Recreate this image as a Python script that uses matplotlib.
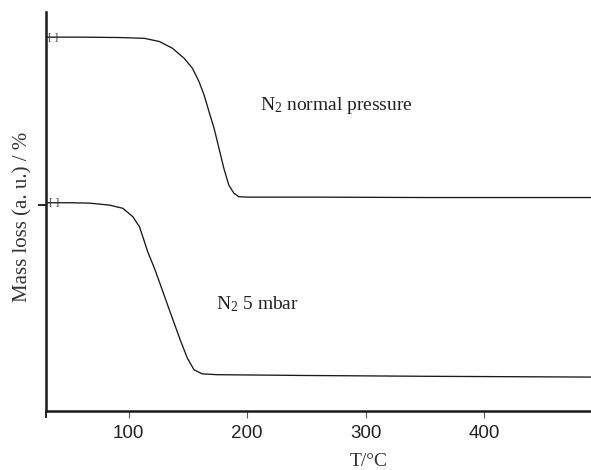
import matplotlib
matplotlib.use("Agg")
import matplotlib.pyplot as plt

# Data (T in °C, mass in arbitrary units)
t_normal = [30.4, 60.0, 92.4, 113.4, 126.0, 137.1, 146.9, 153.9, 159.5, 163.7,
            167.9, 172.1, 176.3, 180.4, 184.6, 188.8, 193.0, 201.4, 260.0,
            350.0, 490.0]
m_normal = [93.7, 93.7, 93.6, 93.4, 92.6, 90.9, 88.4, 85.9, 82.5, 79.2,
            75.0, 70.9, 65.8, 60.8, 56.6, 54.6, 53.7, 53.6, 53.6,
            53.5, 53.5]

t_5mbar = [31.3, 50.0, 67.3, 84.0, 95.2, 103.6, 109.2, 112.0, 116.2, 121.8,
           127.4, 132.9, 138.5, 144.1, 149.7, 155.3, 162.3, 174.8, 250.0,
           350.0, 490.0]
m_5mbar = [52.2, 52.2, 52.1, 51.6, 50.8, 48.7, 46.2, 43.7, 39.9, 35.8,
           31.2, 26.6, 22.0, 17.4, 13.2, 10.3, 9.3, 9.1, 8.9,
           8.7, 8.5]

x_ticks = [100, 200, 300, 400]
y_ticks = [51.6]

plt.rcParams['mathtext.fontset'] = 'custom'
plt.rcParams['mathtext.rm'] = 'Liberation Serif'
plt.rcParams['mathtext.it'] = 'Liberation Serif:italic'

fig = plt.figure(figsize=(5.91, 4.70), dpi=100)
ax = fig.add_axes([46/591, 1-411/470, 1-46/591, (411-12)/470])

ax.plot(t_normal, m_normal, color='#1a1a1a', lw=0.95)
ax.plot(t_5mbar, m_5mbar, color='#1a1a1a', lw=0.95)

ax.set_xlim(30.4, 490)
ax.set_ylim(0, 100)

for s in ['top', 'right']:
    ax.spines[s].set_visible(False)
for s in ['left', 'bottom']:
    ax.spines[s].set_linewidth(1.8)
    ax.spines[s].set_color('#1a1a1a')

ax.set_xticks(x_ticks)
ax.set_xticklabels([str(v) for v in x_ticks], fontfamily='Liberation Sans',
                   fontsize=13.5, color='#222222')
ax.set_xticks([30.4], minor=True)
ax.tick_params(axis='x', which='major', direction='out', length=5, width=0.8,
               pad=5, color='#555555')
ax.tick_params(axis='x', which='minor', direction='out', length=5, width=1.2)
ax.set_yticks(y_ticks)
ax.set_yticklabels([])
ax.tick_params(axis='y', direction='out', length=6, width=1.2)

ax.set_xlabel('T/°C', fontfamily='Liberation Serif', fontsize=14, color='#333333')
ax.xaxis.set_label_coords((369-46)/545, -(453-411)/399)
ax.set_ylabel('Mass loss (a. u.) / %', fontfamily='Liberation Serif', fontsize=15,
              color='#333333')
ax.yaxis.set_label_coords(-(46-32)/545, (411-217)/399)

ax.text(210.6, 75.4, r'N$_2$ normal pressure', fontfamily='Liberation Serif',
        fontsize=14, color='#222222', va='baseline', ha='left')
ax.text(173.5, 25.6, r'N$_2$ 5 mbar', fontfamily='Liberation Serif',
        fontsize=14, color='#222222', va='baseline', ha='left')

# small bracket markers at curve starts
ax.text(31.5, 93.7, '[-]', fontfamily='Liberation Serif', fontsize=8,
        va='center', ha='left', color='#333333')
ax.text(32.0, 52.2, '[-]', fontfamily='Liberation Serif', fontsize=8,
        va='center', ha='left', color='#333333')

fig.savefig('out.png', dpi=100)
